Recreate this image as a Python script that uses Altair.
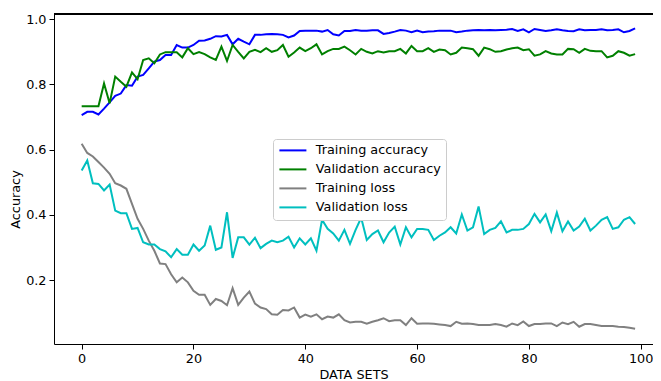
import altair as alt
import pandas as pd

epochs = list(range(100))

train_acc = [
    0.706, 0.716, 0.716, 0.708, 0.726, 0.745, 0.765, 0.772, 0.798, 0.796,
    0.824, 0.829, 0.849, 0.870, 0.875, 0.890, 0.890, 0.921, 0.913, 0.913,
    0.921, 0.934, 0.935, 0.940, 0.948, 0.947, 0.952, 0.923, 0.940, 0.931,
    0.923, 0.952, 0.952, 0.954, 0.955, 0.954, 0.952, 0.944, 0.950, 0.964,
    0.965, 0.965, 0.965, 0.962, 0.967, 0.954, 0.950, 0.964, 0.964, 0.967,
    0.965, 0.965, 0.966, 0.966, 0.955, 0.958, 0.962, 0.967, 0.965, 0.960,
    0.965, 0.960, 0.962, 0.963, 0.965, 0.965, 0.965, 0.960, 0.962, 0.965,
    0.966, 0.967, 0.966, 0.967, 0.966, 0.967, 0.968, 0.970, 0.964, 0.969,
    0.960, 0.970, 0.967, 0.964, 0.966, 0.969, 0.966, 0.964, 0.963, 0.969,
    0.966, 0.967, 0.967, 0.969, 0.966, 0.967, 0.969, 0.960, 0.964, 0.972,
]

val_acc = [
    0.733, 0.733, 0.733, 0.733, 0.803, 0.742, 0.824, 0.808, 0.793, 0.837,
    0.816, 0.875, 0.880, 0.865, 0.892, 0.899, 0.899, 0.899, 0.883, 0.911,
    0.893, 0.899, 0.893, 0.883, 0.875, 0.916, 0.872, 0.921, 0.900, 0.880,
    0.900, 0.906, 0.899, 0.911, 0.900, 0.905, 0.921, 0.885, 0.898, 0.913,
    0.902, 0.911, 0.923, 0.892, 0.902, 0.909, 0.909, 0.916, 0.905, 0.892,
    0.909, 0.900, 0.895, 0.902, 0.898, 0.902, 0.902, 0.909, 0.895, 0.918,
    0.902, 0.902, 0.911, 0.900, 0.907, 0.905, 0.892, 0.897, 0.913, 0.911,
    0.908, 0.888, 0.913, 0.908, 0.900, 0.902, 0.907, 0.911, 0.913, 0.905,
    0.908, 0.888, 0.892, 0.902, 0.895, 0.892, 0.892, 0.909, 0.908, 0.897,
    0.909, 0.903, 0.902, 0.902, 0.883, 0.888, 0.902, 0.897, 0.888, 0.893,
]

train_loss = [
    0.618, 0.590, 0.579, 0.562, 0.545, 0.526, 0.497, 0.490, 0.480, 0.434,
    0.388, 0.357, 0.321, 0.290, 0.251, 0.249, 0.218, 0.193, 0.208, 0.193,
    0.167, 0.155, 0.155, 0.124, 0.142, 0.136, 0.123, 0.175, 0.124, 0.146,
    0.165, 0.128, 0.116, 0.111, 0.095, 0.094, 0.108, 0.107, 0.116, 0.085,
    0.094, 0.088, 0.095, 0.080, 0.088, 0.085, 0.095, 0.077, 0.070, 0.072,
    0.072, 0.066, 0.072, 0.077, 0.083, 0.074, 0.077, 0.077, 0.062, 0.083,
    0.066, 0.067, 0.067, 0.066, 0.064, 0.062, 0.059, 0.072, 0.066, 0.067,
    0.065, 0.062, 0.062, 0.062, 0.065, 0.062, 0.057, 0.067, 0.062, 0.073,
    0.059, 0.065, 0.065, 0.067, 0.067, 0.059, 0.070, 0.065, 0.072, 0.057,
    0.065, 0.065, 0.062, 0.059, 0.059, 0.059, 0.057, 0.056, 0.054, 0.051,
]

val_loss = [
    0.536, 0.567, 0.497, 0.495, 0.475, 0.493, 0.413, 0.405, 0.405, 0.357,
    0.360, 0.316, 0.309, 0.309, 0.295, 0.288, 0.270, 0.295, 0.278, 0.278,
    0.309, 0.290, 0.306, 0.367, 0.293, 0.300, 0.408, 0.268, 0.331, 0.331,
    0.309, 0.330, 0.298, 0.311, 0.321, 0.316, 0.321, 0.333, 0.300, 0.328,
    0.309, 0.328, 0.290, 0.385, 0.357, 0.343, 0.321, 0.354, 0.311, 0.354,
    0.391, 0.323, 0.341, 0.352, 0.316, 0.346, 0.364, 0.309, 0.362, 0.331,
    0.357, 0.357, 0.354, 0.323, 0.336, 0.346, 0.362, 0.343, 0.401, 0.352,
    0.362, 0.426, 0.341, 0.354, 0.360, 0.380, 0.346, 0.354, 0.354, 0.357,
    0.372, 0.403, 0.377, 0.401, 0.350, 0.407, 0.350, 0.380, 0.352, 0.364,
    0.388, 0.352, 0.367, 0.385, 0.393, 0.357, 0.362, 0.385, 0.393, 0.372,
]

series_names = ["Training accuracy", "Validation accuracy", "Training loss", "Validation loss"]
series_colors = ["#0000ff", "#008000", "#808080", "#00bfbf"]
x_ticks = [0, 20, 40, 60, 80, 100]
y_ticks = [0.2, 0.4, 0.6, 0.8, 1.0]

rows = []
for name, vals in zip(series_names, [train_acc, val_acc, train_loss, val_loss]):
    for e, v in zip(epochs, vals):
        rows.append({"epoch": e, "value": v, "series": name})
df = pd.DataFrame(rows)

W, H = 599, 330
FONT = "DejaVu Sans"

lines = alt.Chart(df).mark_line(strokeWidth=2).encode(
    x=alt.X(
        "epoch:Q",
        scale=alt.Scale(domain=[-4.95, 102.2], nice=False, zero=False),
        axis=alt.Axis(values=x_ticks, format="d", title="DATA SETS", grid=False,
                      tickSize=5, labelPadding=3, titlePadding=4),
    ),
    y=alt.Y(
        "value:Q",
        scale=alt.Scale(domain=[0.004, 1.016], nice=False, zero=False),
        axis=alt.Axis(values=y_ticks, format=".1f", title="Accuracy", grid=False,
                      tickSize=5, labelPadding=3, titlePadding=3, titleY=185),
    ),
    color=alt.Color(
        "series:N",
        scale=alt.Scale(domain=series_names, range=series_colors),
        legend=alt.Legend(
            title=None, orient="none", legendX=219, legendY=125,
            symbolType="M-1,0H4.4", symbolSize=100, symbolStrokeWidth=2,
            labelFont=FONT, labelFontSize=12.8, labelColor="black",
            labelOffset=25, rowPadding=5, padding=5,
            strokeColor="#cccccc", fillColor="white", cornerRadius=3,
        ),
    ),
    detail="series:N",
)

frame_top = alt.Chart(df).mark_rule(color="black", strokeWidth=1).encode(
    x=alt.value(0), x2=alt.value(W), y=alt.value(0)
)

chart = alt.layer(lines, frame_top).properties(
    width=W, height=H,
    autosize=alt.AutoSizeParams(type="none"),
    padding={"left": 46, "top": 6, "right": 0, "bottom": 37},
).configure_view(stroke="transparent").configure_axis(
    domainColor="black", domainWidth=1, tickColor="black", tickWidth=1,
    labelFont=FONT, labelFontSize=12.8, labelColor="black",
    titleFont=FONT, titleFontSize=12.8, titleFontWeight="normal", titleColor="black",
)

chart.save("out.html", embed_options={"renderer": "svg", "actions": False})
